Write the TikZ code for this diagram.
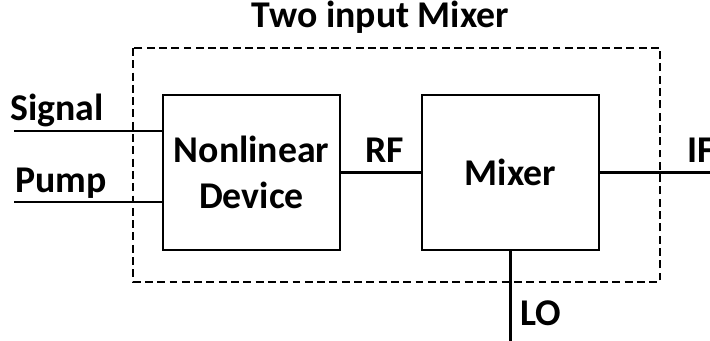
\documentclass[tikz,border=0pt]{standalone}
\usepackage{fontspec}
\setmainfont{Carlito}
\begin{document}
\begin{tikzpicture}[x=0.02cm,y=-0.02cm,
    every node/.style={font=\fontsize{21.5}{26.6}\selectfont\bfseries,inner sep=0pt},
    bloque/.style={draw,line width=1.2pt,minimum width=3.54cm,minimum height=3.1cm,align=center},
    linea/.style={line width=1.2pt}]
    \useasboundingbox (0,0) rectangle (710,341);

    % Caja punteada del mezclador de dos entradas.
    \draw[linea,dash pattern=on 4.5pt off 2.5pt] (133,48) rectangle (660,282);
    \node[anchor=base] (titulo) at (380.5,28) {Two input Mixer};

    % Los dos bloques.
    \node[bloque] (nl) at (251.5,172.5) {Nonlinear\\Device};
    \node[bloque] (mix) at (510.5,172.5) {Mixer};

    % Entradas y salidas.
    \coordinate (sig) at (14,131);
    \coordinate (pump) at (14,202);
    \coordinate (if) at (710,172.5);
    \coordinate (lo) at (512,341);
    \draw[linea] (sig) -- (sig -| nl.west);
    \draw[linea] (pump) -- (pump -| nl.west);
    \draw[linea] (nl.east) -- (mix.west);
    \draw[linea] (mix.east) -- (if);
    \draw[linea] (mix.south) -- (mix.south |- lo);

    \node[anchor=base west] (lsig) at (10,121) {Signal};
    \node[anchor=base west] (lpump) at (15,193) {Pump};
    \node[anchor=base] (lrf) at (384.5,162) {RF};
    \node[anchor=base west] (lif) at (687,162) {IF};
    \node[anchor=base west] (llo) at (520,325) {LO};
\end{tikzpicture}
\end{document}
